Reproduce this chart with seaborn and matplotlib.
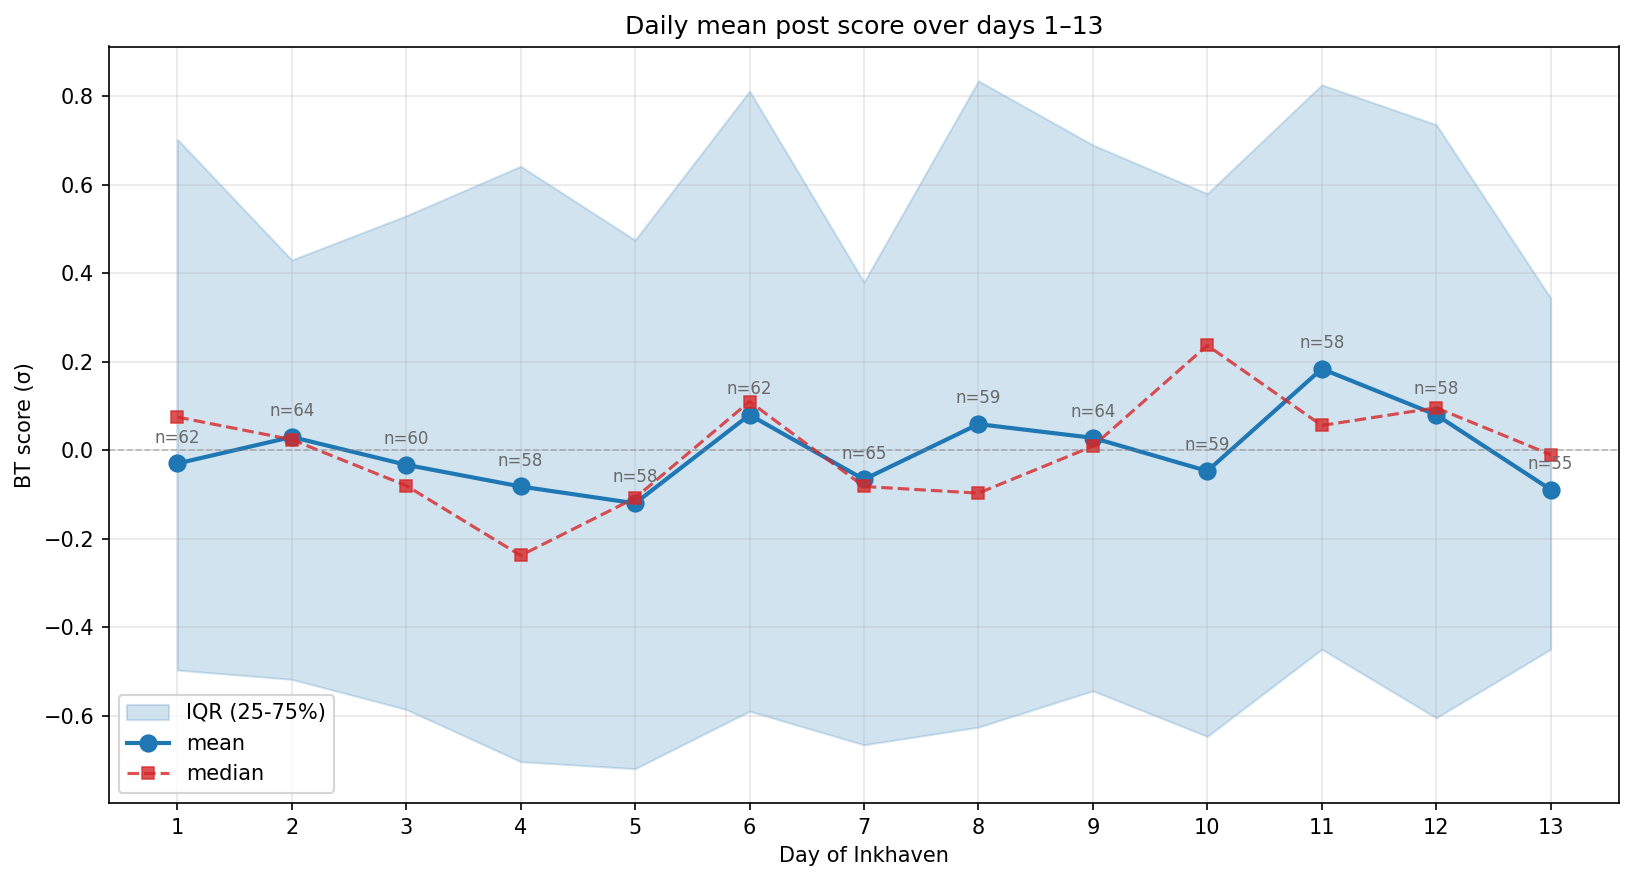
import numpy as np
import pandas as pd
import matplotlib
matplotlib.use("Agg")
import matplotlib.pyplot as plt
import seaborn as sns

days = list(range(1, 14))
mean_score = [-0.030, 0.030, -0.033, -0.082, -0.120, 0.080, -0.066, 0.059, 0.028, -0.047, 0.184, 0.080, -0.089]
median_score = [0.075, 0.024, -0.080, -0.238, -0.108, 0.110, -0.082, -0.097, 0.009, 0.237, 0.056, 0.096, -0.010]
q75 = [0.703, 0.430, 0.530, 0.642, 0.475, 0.812, 0.380, 0.835, 0.690, 0.580, 0.826, 0.736, 0.344]
q25 = [-0.497, -0.518, -0.586, -0.704, -0.720, -0.590, -0.666, -0.626, -0.544, -0.647, -0.450, -0.605, -0.450]
counts = [62, 64, 60, 58, 58, 62, 65, 59, 64, 59, 58, 58, 55]


def make_plot(out_path="out.png"):
    df = pd.DataFrame({"day": days, "mean": mean_score, "median": median_score,
                       "q25": q25, "q75": q75, "n": counts})

    plt.rcParams["font.family"] = ["DejaVu Sans"]
    fig, ax = plt.subplots(figsize=(11, 6))

    ax.fill_between(df["day"], df["q25"], df["q75"], color="tab:blue", alpha=0.2,
                    label="IQR (25-75%)")
    sns.lineplot(data=df, x="day", y="mean", ax=ax, color="tab:blue", linewidth=2,
                 marker="o", markersize=8, markeredgecolor="tab:blue", label="mean")
    sns.lineplot(data=df, x="day", y="median", ax=ax, color="tab:red", linewidth=1.5,
                 linestyle="--", marker="s", markersize=6, markeredgecolor="tab:red",
                 alpha=0.8, label="median")

    for d, m, n in zip(df["day"], df["mean"], df["n"]):
        ax.annotate(f"n={n}", (d, m), textcoords="offset points", xytext=(0, 10),
                    ha="center", fontsize=8, color="dimgray")

    ax.axhline(0, color="gray", linestyle="--", linewidth=0.8, alpha=0.5)
    ax.set_xticks(days)
    ax.grid(True, alpha=0.3)
    ax.set_xlabel("Day of Inkhaven")
    ax.set_ylabel("BT score (σ)")
    ax.set_title("Daily mean post score over days 1–13")
    ax.legend(loc="lower left")

    plt.tight_layout()
    plt.savefig(out_path, dpi=150, bbox_inches="tight")


if __name__ == "__main__":
    make_plot()
